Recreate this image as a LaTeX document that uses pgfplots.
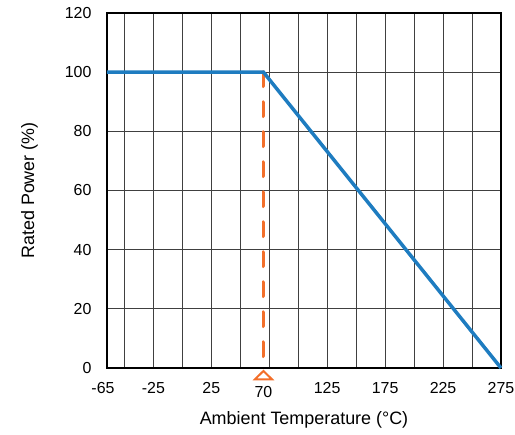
\documentclass[border=0pt]{standalone}
\usepackage{pgfplots}
\pgfplotsset{compat=1.18}
\usepackage{fontspec}
\setmainfont{Liberation Sans}
\definecolor{lineblue}{HTML}{1E7CC0}
\definecolor{derate}{HTML}{F36F2A}
\begin{document}
\begin{tikzpicture}[x=1bp,y=1bp]
\begin{axis}[
    scale only axis, width=394bp, height=355bp,
    xmin=-65, xmax=275, ymin=0, ymax=120,
    xtick={-65,-25,25,70,125,175,225,275},
    xticklabels={{\hspace*{-8bp}-65},-25,25,{\raisebox{-3.5bp}[\height][\depth]{70}},125,175,225,275},
    minor xtick={-50,-25,0,25,50,75,100,125,150,175,200,225,250},
    ytick={0,20,40,60,80,100,120},
    xmajorgrids=false, xminorgrids=true, ymajorgrids=true,
    grid style={black!75, line width=0.7bp},
    minor grid style={black!75, line width=0.7bp},
    major tick length=0pt, minor tick length=0pt,
    axis line style={black, line width=1.8bp},
    tick label style={font=\fontsize{16}{18}\selectfont},
    /pgf/number format/assume math mode=true,
    xticklabel style={yshift=-11bp},
    yticklabel style={xshift=-12bp},
    xlabel={Ambient Temperature (°C)},
    ylabel={Rated Power (\%)},
    label style={font=\fontsize{18}{20}\selectfont},
    xlabel style={at={(axis description cs:0.5,-0.145)}, anchor=center},
    ylabel style={at={(axis description cs:-0.197,0.5)}, anchor=center},
    clip=false,
]
\addplot[derate, line width=3.8bp, line cap=round, dash pattern=on 14bp off 16bp] coordinates {(70,100) (70,0)};
\addplot[lineblue, line width=3.5bp] coordinates {(-65,100) (70,100) (275,0)};
\addplot[derate, only marks, mark=triangle, mark size=5.5bp,
    mark options={line width=2bp, xscale=1.78, yshift=-8.5bp}] coordinates {(70,0)};
\end{axis}
\pgfresetboundingbox
\path (-107bp,-67bp) rectangle (408bp,368bp);
\end{tikzpicture}
\end{document}
